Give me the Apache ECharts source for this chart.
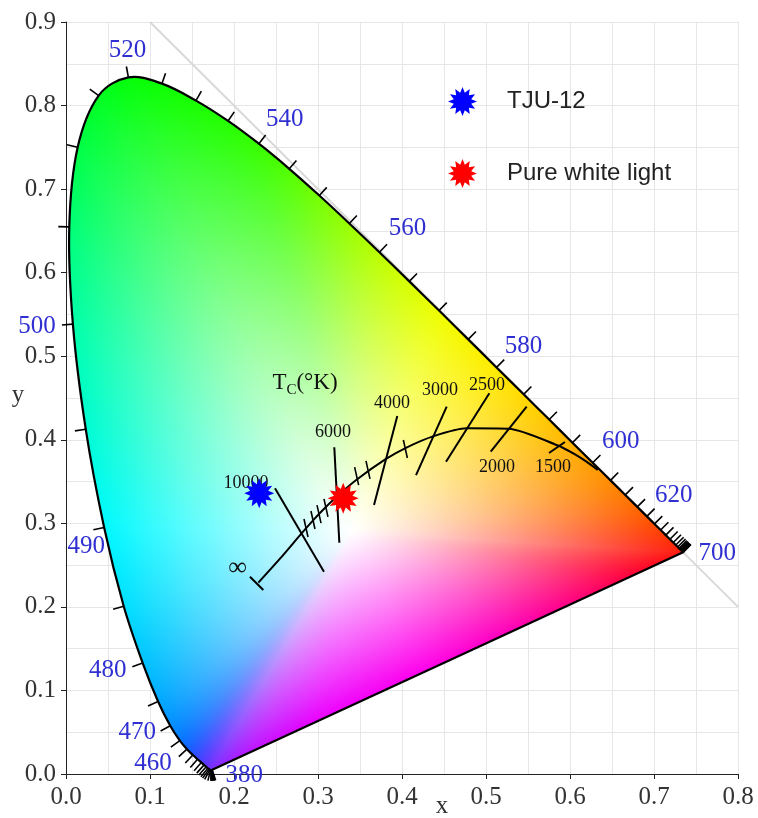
<!DOCTYPE html>
<html><head><meta charset="utf-8">
<script src="https://cdn.jsdelivr.net/npm/echarts/dist/echarts.min.js"></script>
<style>html,body{margin:0;padding:0;background:#fff;}#chart{width:758px;height:818px;}</style>
</head><body><div id="chart"></div>
<script>
// ---------------- DATA ----------------
const wavelengths = [380,385,390,395,400,405,410,415,420,425,430,435,440,445,450,455,460,465,470,475,480,485,490,495,500,505,510,515,520,525,530,535,540,545,550,555,560,565,570,575,580,585,590,595,600,605,610,615,620,625,630,635,640,645,650,655,660,665,670,675,680,685,690,695,700];
const locusX = [0.1741,0.1740,0.1738,0.1736,0.1733,0.1730,0.1726,0.1721,0.1714,0.1703,0.1689,0.1669,0.1644,0.1611,0.1566,0.1510,0.1440,0.1355,0.1241,0.1096,0.0913,0.0687,0.0454,0.0235,0.0082,0.0039,0.0139,0.0389,0.0743,0.1142,0.1547,0.1929,0.2296,0.2658,0.3016,0.3373,0.3731,0.4087,0.4441,0.4788,0.5125,0.5448,0.5752,0.6029,0.6270,0.6482,0.6658,0.6801,0.6915,0.7006,0.7079,0.7140,0.7190,0.7230,0.7260,0.7283,0.7300,0.7311,0.7320,0.7327,0.7334,0.7340,0.7344,0.7346,0.7347];
const locusY = [0.0050,0.0050,0.0049,0.0049,0.0048,0.0048,0.0048,0.0048,0.0051,0.0058,0.0069,0.0086,0.0109,0.0138,0.0177,0.0227,0.0297,0.0399,0.0578,0.0868,0.1327,0.2007,0.2950,0.4127,0.5384,0.6548,0.7502,0.8120,0.8338,0.8262,0.8059,0.7816,0.7543,0.7243,0.6923,0.6589,0.6245,0.5896,0.5547,0.5202,0.4866,0.4544,0.4242,0.3965,0.3725,0.3514,0.3340,0.3197,0.3083,0.2993,0.2920,0.2859,0.2809,0.2770,0.2740,0.2717,0.2700,0.2689,0.2680,0.2673,0.2666,0.2660,0.2656,0.2654,0.2653];
const labeledWavelengths = [380,460,470,480,490,500,520,540,560,580,600,620,700];

const planckX = [0.2290,0.2550,0.2807,0.2952,0.3064,0.3221,0.3451,0.3805,0.4053,0.4369,0.4770,0.5267,0.5857,0.6050,0.6200,0.6330];
const planckY = [0.2290,0.2580,0.2883,0.3048,0.3166,0.3318,0.3516,0.3768,0.3907,0.4041,0.4137,0.4133,0.3931,0.3830,0.3735,0.3640];

// isotherm segments (∞ end bar, 10000, 6000, 4000, 3000, 2500, 2000, 1500)
const isoX1 = [0.2190,0.2488,0.3194,0.3944,0.4532,0.5040,0.5484,0.5940];
const isoY1 = [0.2361,0.3419,0.3910,0.4284,0.4396,0.4556,0.4396,0.3973];
const isoX2 = [0.2349,0.3071,0.3254,0.3667,0.4167,0.4524,0.5056,0.5750];
const isoY2 = [0.2202,0.2421,0.2768,0.3219,0.3578,0.3737,0.3857,0.3842];

// small temperature ticks on the Planckian locus (centres)
const minorTickX = [0.2857,0.2940,0.3012,0.3095,0.3460,0.3595,0.4040];
const minorTickY = [0.2944,0.3040,0.3110,0.3185,0.3565,0.3640,0.3890];

const tempLabels  = ['\u221E','10000','6000','4000','3000','2500','2000','1500'];
const tempLabelX  = [0.2042,0.2143,0.3179,0.3881,0.4452,0.5012,0.5131,0.5798];
const tempLabelY  = [0.2465,0.3482,0.4093,0.4440,0.4596,0.4655,0.3674,0.3674];
const tcLabelPos  = [0.2845,0.4679];

const tjuPoint   = [0.230,0.336];
const whitePoint = [0.330,0.330];
const diagonal   = [[0.1,0.9],[0.8,0.2]];

// ---------------- STYLE ----------------
const X_MAX = 0.8, Y_MAX = 0.9;
const SMOOTH = 0.35;
const WHITE_CENTER = [0.34, 0.29];
const BLEND_GAMMA = 1.08;
const edgePalette = [[380,[150,40,255]],[420,[130,40,255]],[445,[70,50,255]],[460,[0,100,255]],[470,[0,145,255]],[480,[0,195,255]],[490,[0,250,255]],[500,[0,255,170]],[510,[0,255,70]],[520,[0,255,0]],[540,[50,255,0]],[550,[120,255,0]],[560,[190,255,0]],[570,[240,255,0]],[580,[255,235,0]],[590,[255,200,0]],[600,[255,160,0]],[620,[255,90,0]],[650,[255,40,0]],[700,[255,10,0]]];
const purplePalette = [[0,[255,10,0]],[0.08,[255,0,45]],[0.2,[255,0,115]],[0.35,[255,0,180]],[0.55,[255,0,235]],[0.78,[235,0,255]],[0.92,[190,20,255]],[1,[150,40,255]]];
const wlLabelOffset = {380:[32,6],460:[-34,14],470:[-33,7],480:[-35,7],490:[-18,19],500:[-36,2],520:[-1,-27],540:[26,-24],560:[28,-24],580:[27,-21],600:[28,-21],620:[27,-21],700:[34,1]};
const SERIF = '"Liberation Serif","Times New Roman",serif';
const SANS = '"Liberation Sans",Arial,sans-serif';

function paletteAt(pal, v){
  if (v <= pal[0][0]) return pal[0][1];
  for (let k=0;k<pal.length-1;k++){
    const a=pal[k], b=pal[k+1];
    if (v<=b[0]){ const s=(v-a[0])/(b[0]-a[0]); return [0,1,2].map(c=>a[1][c]+(b[1][c]-a[1][c])*s); }
  }
  return pal[pal.length-1][1];
}

function smoothCps(pts, smooth){
  const len=pts.length, cps=[];
  for (let i=0;i<len;i++){
    const p=pts[i], prev=pts[i?i-1:len-1], next=pts[(i+1)%len];
    const vx=(next[0]-prev[0])*smooth, vy=(next[1]-prev[1])*smooth;
    let d0=Math.hypot(p[0]-prev[0],p[1]-prev[1]), d1=Math.hypot(p[0]-next[0],p[1]-next[1]);
    const s=d0+d1; if (s!==0){ d0/=s; d1/=s; }
    cps.push([p[0]-vx*d0,p[1]-vy*d0]); cps.push([p[0]+vx*d1,p[1]+vy*d1]);
  }
  cps.push(cps.shift());
  return cps;
}

function buildGamut(W,H,pts,wp){
  const cv=document.createElement('canvas'); cv.width=W; cv.height=H;
  const ctx=cv.getContext('2d');
  const img=ctx.createImageData(W,H); const d=img.data;
  const n=pts.length, NA=4096;
  const R=new Float32Array(NA), C0=[];
  for (let a=0;a<NA;a++){
    const ang=a/NA*2*Math.PI-Math.PI, dx=Math.cos(ang), dy=Math.sin(ang);
    let best=1e9, col=[255,255,255];
    for (let k=0;k<n;k++){
      const A=pts[k], B=pts[(k+1)%n];
      const ex=B[0]-A[0], ey=B[1]-A[1];
      const den=dx*ey-dy*ex; if (Math.abs(den)<1e-12) continue;
      const wx=A[0]-wp[0], wy=A[1]-wp[1];
      const u=(wx*ey-wy*ex)/den; const s=(wx*dy-wy*dx)/den;
      if (u>0 && s>=-1e-6 && s<=1+1e-6 && u<best){
        best=u;
        if (k===n-1) col=paletteAt(purplePalette, s);
        else col=paletteAt(edgePalette, wavelengths[k]+s*(wavelengths[k+1]-wavelengths[k]));
      }
    }
    R[a]=best; C0[a]=col;
  }
  // soften abrupt colour changes at the two corners (angular blur)
  const BW=80, C=[];
  for (let a=0;a<NA;a++){
    let r=0,g=0,b=0,wsum=0;
    for (let k=-BW;k<=BW;k++){ const c=C0[(a+k+NA)%NA]; const w=1-Math.abs(k)/(BW+1); r+=c[0]*w; g+=c[1]*w; b+=c[2]*w; wsum+=w; }
    C[a]=[r/wsum,g/wsum,b/wsum];
  }
  let minX=1e9,maxX=-1e9,minY=1e9,maxY=-1e9;
  pts.forEach(p=>{minX=Math.min(minX,p[0]);maxX=Math.max(maxX,p[0]);minY=Math.min(minY,p[1]);maxY=Math.max(maxY,p[1]);});
  const i0=Math.max(0,Math.floor(minX)-4), i1=Math.min(W-1,Math.ceil(maxX)+4);
  const j0=Math.max(0,Math.floor(minY)-4), j1=Math.min(H-1,Math.ceil(maxY)+4);
  for (let j=j0;j<=j1;j++){
    for (let i=i0;i<=i1;i++){
      const dx=i+0.5-wp[0], dy=j+0.5-wp[1];
      const dist=Math.hypot(dx,dy);
      const bin=Math.round((Math.atan2(dy,dx)+Math.PI)/(2*Math.PI)*NA)%NA;
      const t=Math.min(1,dist/R[bin]);
      const s=Math.pow(t,BLEND_GAMMA), c=C[bin];
      const o=(j*W+i)*4;
      d[o]=255+(c[0]-255)*s; d[o+1]=255+(c[1]-255)*s; d[o+2]=255+(c[2]-255)*s; d[o+3]=255;
    }
  }
  ctx.putImageData(img,0,0);
  ctx.globalCompositeOperation='destination-in';
  const cps=smoothCps(pts,SMOOTH);
  ctx.beginPath(); ctx.moveTo(pts[0][0],pts[0][1]);
  for (let i=0;i<n;i++){ const c1=cps[i*2], c2=cps[i*2+1], p=pts[(i+1)%n]; ctx.bezierCurveTo(c1[0],c1[1],c2[0],c2[1],p[0],p[1]); }
  ctx.closePath(); ctx.fillStyle='#000'; ctx.fill();
  return cv;
}

let gamutCache=null;
function renderGamut(params, api){
  const p0=api.coord([0,0]), p1=api.coord([X_MAX,Y_MAX]);
  const ox=p0[0], oy=p1[1];
  const W=Math.round(p1[0]-p0[0]), H=Math.round(p0[1]-p1[1]);
  if (!gamutCache || gamutCache.W!==W || gamutCache.H!==H){
    const pts=locusX.map((x,i)=>{const c=api.coord([x,locusY[i]]); return [c[0]-ox,c[1]-oy];});
    const w=api.coord(WHITE_CENTER);
    gamutCache={W,H,canvas:buildGamut(W,H,pts,[w[0]-ox,w[1]-oy])};
  }
  return {type:'image', silent:true, style:{image:gamutCache.canvas, x:ox, y:oy, width:W, height:H}};
}

function renderOutline(params, api){
  const pts=locusX.map((x,i)=>api.coord([x,locusY[i]]));
  return {type:'polygon', silent:true, shape:{points:pts, smooth:SMOOTH}, style:{fill:'none', stroke:'#000', lineWidth:2.2}};
}

function renderLocusTick(params, api){
  const i=api.value(2), n=locusX.length;
  const p=api.coord([api.value(0),api.value(1)]);
  const a=api.coord([locusX[Math.max(i-1,0)],locusY[Math.max(i-1,0)]]);
  const b=api.coord([locusX[Math.min(i+1,n-1)],locusY[Math.min(i+1,n-1)]]);
  let tx=b[0]-a[0], ty=b[1]-a[1]; const L=Math.hypot(tx,ty)||1; tx/=L; ty/=L;
  const nx=ty, ny=-tx, len=11;
  return {type:'line', silent:true, shape:{x1:p[0],y1:p[1],x2:p[0]+nx*len,y2:p[1]+ny*len}, style:{stroke:'#000', lineWidth:1.6}};
}

function renderWlLabel(params, api){
  const w=api.value(2); const p=api.coord([api.value(0),api.value(1)]);
  const off=wlLabelOffset[w]||[0,0];
  return {type:'text', silent:true, x:p[0]+off[0], y:p[1]+off[1], style:{text:String(w), fill:'#2f2fd2', font:'25px '+SERIF, align:'center', verticalAlign:'middle'}};
}

function renderIso(params, api){
  const a=api.coord([api.value(0),api.value(1)]), b=api.coord([api.value(2),api.value(3)]);
  return {type:'line', silent:true, shape:{x1:a[0],y1:a[1],x2:b[0],y2:b[1]}, style:{stroke:'#000', lineWidth:2}};
}

function renderMinorTick(params, api){
  const p=api.coord([api.value(0),api.value(1)]);
  return {type:'line', silent:true, shape:{x1:p[0]-2,y1:p[1]-9,x2:p[0]+2,y2:p[1]+9}, style:{stroke:'#000', lineWidth:1.6}};
}

function renderTempLabel(params, api){
  const p=api.coord([api.value(0),api.value(1)]);
  const txt=tempLabels[params.dataIndex];
  const big = txt==='\u221E';
  return {type:'text', silent:true, x:p[0], y:p[1], style:{text:txt, fill:'#111', font:(big?'26px ':'18px ')+SERIF, align:'center', verticalAlign:'middle'}};
}

function renderTc(params, api){
  const p=api.coord([api.value(0),api.value(1)]);
  return {type:'text', silent:true, x:p[0], y:p[1], style:{
    text:'{a|T}{b|C}{a|(\u00B0K)}', align:'center', verticalAlign:'middle',
    rich:{a:{fontSize:23, fontFamily:SERIF, fill:'#111', lineHeight:30, verticalAlign:'middle'},
          b:{fontSize:15, fontFamily:SERIF, fill:'#111', lineHeight:12, verticalAlign:'bottom'}}}};
}

function starPath(nPts, rIn){
  let d='';
  for (let k=0;k<2*nPts;k++){
    const r=k%2?rIn:1, a=-Math.PI/2+k*Math.PI/nPts;
    d+=(k?'L':'M')+(50+50*r*Math.cos(a)).toFixed(2)+' '+(50+50*r*Math.sin(a)).toFixed(2)+' ';
  }
  return 'path://'+d+'Z';
}
const STAR = starPath(12, 0.62);

const chart=echarts.init(document.getElementById('chart'), null, {renderer:'canvas'});
const gridColor='#e6e6e6';
const axisCommon = {
  type:'value',
  axisLine:{show:true, onZero:false, lineStyle:{color:'#222', width:1}},
  axisTick:{show:true, length:5, lineStyle:{color:'#222'}},
  axisLabel:{formatter:v=>v.toFixed(1), fontFamily:SERIF, fontSize:25, color:'#333'},
  splitLine:{show:true, lineStyle:{color:gridColor, width:1}},
  minorTick:{show:true, splitNumber:2, length:0, lineStyle:{color:'rgba(0,0,0,0)'}},
  minorSplitLine:{show:true, lineStyle:{color:gridColor, width:1}}
};

const option = {
  animation:false,
  backgroundColor:'#fff',
  grid:{left:66, right:20, top:22, bottom:44, containLabel:false},
  xAxis:Object.assign({}, axisCommon, {min:0, max:X_MAX, interval:0.1, axisLabel:Object.assign({}, axisCommon.axisLabel, {margin:11})}),
  yAxis:Object.assign({}, axisCommon, {min:0, max:Y_MAX, interval:0.1, axisLabel:Object.assign({}, axisCommon.axisLabel, {margin:10})}),
  legend:{
    orient:'vertical', left:443, top:82, itemWidth:29, itemHeight:29, itemGap:43,
    textStyle:{fontFamily:SANS, fontSize:24, color:'#222', padding:[0,0,0,25]},
    data:[{name:'TJU-12', icon:STAR},{name:'Pure white light', icon:STAR}]
  },
  graphic:[
    {type:'text', x:442, y:806, style:{text:'x', font:'25px '+SERIF, fill:'#333', align:'center', verticalAlign:'middle', textAlign:'center', textVerticalAlign:'middle'}},
    {type:'text', x:18, y:395, style:{text:'y', font:'25px '+SERIF, fill:'#333', align:'center', verticalAlign:'middle', textAlign:'center', textVerticalAlign:'middle'}}
  ],
  series:[
    {type:'line', name:'diag', data:diagonal, symbol:'none', z:1, silent:true, lineStyle:{color:'#d9d9d9', width:2}},
    {type:'custom', name:'gamut', z:2, data:[[0.4,0.45]], renderItem:renderGamut, silent:true},
    {type:'custom', name:'locus', z:3, data:[[0.4,0.45]], renderItem:renderOutline, silent:true},
    {type:'custom', name:'wlTicks', z:3, data:locusX.map((x,i)=>[x,locusY[i],i]), renderItem:renderLocusTick, silent:true},
    {type:'custom', name:'wlLabels', z:5, data:labeledWavelengths.map(w=>{const i=wavelengths.indexOf(w); return [locusX[i],locusY[i],w];}), renderItem:renderWlLabel, silent:true},
    {type:'line', name:'planck', z:4, data:planckX.map((x,i)=>[x,planckY[i]]), symbol:'none', smooth:0.25, silent:true, lineStyle:{color:'#000', width:2}},
    {type:'custom', name:'iso', z:4, data:isoX1.map((x,i)=>[x,isoY1[i],isoX2[i],isoY2[i]]), renderItem:renderIso, silent:true},
    {type:'custom', name:'minorTicks', z:4, data:minorTickX.map((x,i)=>[x,minorTickY[i]]), renderItem:renderMinorTick, silent:true},
    {type:'custom', name:'tempLabels', z:5, data:tempLabelX.map((x,i)=>[x,tempLabelY[i]]), renderItem:renderTempLabel, silent:true},
    {type:'custom', name:'tc', z:5, data:[tcLabelPos], renderItem:renderTc, silent:true},
    {type:'scatter', name:'TJU-12', z:6, data:[tjuPoint], symbol:STAR, symbolSize:30, itemStyle:{color:'#0000ff', opacity:1}},
    {type:'scatter', name:'Pure white light', z:6, data:[whitePoint], symbol:STAR, symbolSize:31, itemStyle:{color:'#ff0000', opacity:1}}
  ]
};
chart.setOption(option);
</script></body></html>
